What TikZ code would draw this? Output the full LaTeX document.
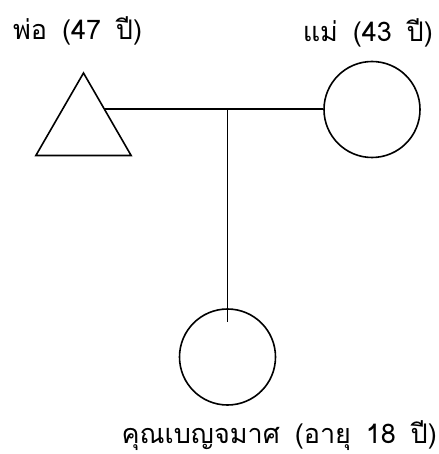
\documentclass[tikz,border=0pt]{standalone}
\usepackage{fontspec}
\newfontfamily\thaifont[Script=Thai]{Loma}
\usetikzlibrary{shapes.geometric,calc}
\tikzset{
  male/.style={draw=black, line width=1.6pt, regular polygon, regular polygon sides=3, minimum size=110pt, inner sep=0pt},
  female/.style={draw=black, line width=1.6pt, circle, minimum size=96pt, inner sep=0pt},
  tie/.style={draw=black, line width=1.6pt},
  tag/.style={font=\thaifont\fontsize{27}{32}\selectfont, inner sep=0pt}
}
\newcommand{\wgap}{\hspace{0.55em}}

\begin{document}
\begin{tikzpicture}[x=1pt,y=-1pt]
  \useasboundingbox (0,0) rectangle (438,454);
  % people
  \node[male] (dad) at (83.5,128) {};
  \node[female] (mom) at (372,109.5) {};
  \node[female] (kid) at (227.5,357) {};
  % marriage and descent lines
  \coordinate (join) at ($(dad.corner 1)!0.44!(dad.corner 3)$);
  \coordinate (mid) at (join -| kid);
  \coordinate (drop) at ($(kid.north)+(0,14)$);
  \draw[tie] (join) -- (join -| mom.west);
  \draw[tie] (mid) -- (drop);
  % labels
  \node[tag, anchor=base west] (dadtag) at (13,40) {พ่อ\wgap(47\wgap ปี)};
  \node[tag, anchor=base east] (momtag) at (433,42) {แม่\wgap(43\wgap ปี)};
  \node[tag, anchor=base east] (kidtag) at (437,443) {คุณเบญจมาศ\wgap(อายุ\wgap 18\wgap ปี)};
\end{tikzpicture}
\end{document}
